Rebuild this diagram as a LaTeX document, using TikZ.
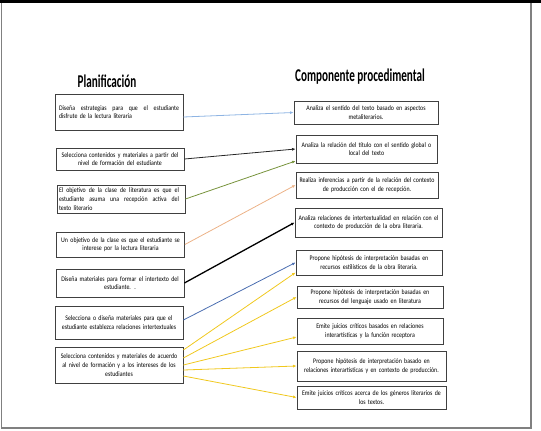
\documentclass[tikz,border=0pt]{standalone}
\usepackage{fontspec}
\setmainfont{Carlito}[FakeStretch=0.84]
\newfontfamily\titulo{Carlito}[FakeStretch=0.62]
\usetikzlibrary{arrows}
\usepgflibrary{arrows.meta}
\definecolor{azulclaro}{RGB}{142,180,227}
\definecolor{gris}{RGB}{38,38,38}
\definecolor{verde}{RGB}{119,147,60}
\definecolor{durazno}{RGB}{236,178,135}
\definecolor{azul}{RGB}{74,109,176}
\definecolor{amarillo}{RGB}{240,200,30}
\newcommand{\linea}[1]{{\spaceskip=0.22em plus 1fil\makebox[120pt][s]{#1}}}
\hyphenpenalty=10000

\begin{document}
\begin{tikzpicture}[x=1pt,y=-1pt,
    caja/.style={draw=black!75,line width=0.8pt,inner sep=2pt,align=center,font=\fontsize{7}{8.6}\selectfont},
    izq/.style={caja,text width=124pt},
    flecha/.style={line width=0.8pt,-{Latex[length=3.5pt,width=3pt]}}]
        %marco;
            \useasboundingbox (0,0) rectangle (541,431);
            \draw [black!50,line width=1.3pt] (1.5,1) -- (1.5,428) -- (531,428) -- (531,1);
            \draw [line width=3pt] (0,1.5) -- (541,1.5);
        %títulos;
            \node (tplan) at (107,81) {\titulo\fontsize{18}{20}\selectfont\bfseries Planificación};
            \node (tcomp) at (360,77) {\titulo\fontsize{18}{20}\selectfont\bfseries Componente procedimental};
        %planificación;
            \node [izq,align=left,minimum height=36pt] (p1) at (119,112) {\hspace*{2pt}\linea{Diseña estrategias para que el estudiante}\\\hspace*{2pt}disfrute de la lectura literaria};
            \node [izq,minimum height=22pt] (p2) at (120,159) {Selecciona contenidos y materiales a partir del\\nivel de formación del estudiante};
            \node [izq,align=left,minimum height=28pt] (p3) at (121,199) {\linea{El objetivo de la clase de literatura es que el}\\\linea{estudiante asuma una recepción activa del}\\texto literario};
            \node [izq,minimum height=25pt] (p4) at (120.5,244.5) {Un objetivo de la clase es que el estudiante se\\interese por la lectura literaria};
            \node [izq,minimum height=28pt] (p5) at (120,283) {Diseña materiales para formar el intertexto del\\estudiante. .};
            \node [izq,minimum height=33pt] (p6) at (119,322.5) {Selecciona o diseña materiales para que el\\estudiante establezca relaciones intertextuales};
            \node [izq,minimum height=36pt] (p7) at (119,365) {Selecciona contenidos y materiales de acuerdo\\al nivel de formación y a los intereses de los\\estudiantes};
        %componente procedimental;
            \node [caja,text width=140pt,minimum height=23pt] (c1) at (366,112.5) {Analiza el sentido del texto basado en aspectos\\metaliterarios.};
            \node [caja,text width=137pt,minimum height=28pt] (c2) at (366.5,149) {Analiza la relación del título con el sentido global o\\local del texto};
            \node [caja,text width=138pt,minimum height=26pt] (c3) at (367,185) {Realiza inferencias a partir de la relación del contexto\\de producción con el de recepción.};
            \node [caja,text width=143pt,minimum height=29pt] (c4) at (368.5,222.5) {Analiza relaciones de intertextualidad en relación con el\\contexto de producción de la obra literaria.};
            \node [caja,text width=142pt,minimum height=25pt] (c5) at (369,262.5) {Propone hipótesis de interpretación basadas en\\recursos estilísticos de la obra literaria.};
            \node [caja,text width=142pt,minimum height=22pt] (c6) at (370,297) {Propone hipótesis de interpretación basadas en\\recursos del lenguaje usado en literatura};
            \node [caja,text width=142pt,minimum height=26pt] (c7) at (370,331) {Emite juicios críticos basados en relaciones\\interartísticas y la función receptora};
            \node [caja,text width=145pt,minimum height=30pt] (c8) at (371.5,366) {Propone hipótesis de interpretación basado en\\relaciones interartísticas y en contexto de producción.};
            \node [caja,text width=145pt,minimum height=23pt] (c9) at (371.5,397.5) {Emite juicios críticos acerca de los géneros literarios de\\los textos.};
        %flechas;
            \draw [flecha,azulclaro] ([yshift=-5pt]p1.east) -- (c1.west);
            \draw [flecha,gris] (p2.east) -- (c2.west);
            \draw [flecha,verde] (p3.east) -- ([yshift=-12pt]c2.west);
            \draw [flecha,durazno] (p4.east) -- (c3.west);
            \draw [flecha,black,line width=1.3pt] (p5.east) -- (c4.west);
            \draw [flecha,azul] ([yshift=2.5pt]p6.east) -- (c5.west);
            %amarillas;
            \draw [flecha,amarillo] ([yshift=15pt]p7.east) -- ([yshift=-10pt]c5.west);
            \draw [flecha,amarillo] ([yshift=7pt]p7.east) -- (c6.west);
            \draw [flecha,amarillo] (p7.east) -- ([yshift=-6pt]c7.west);
            \draw [flecha,amarillo] ([yshift=-5pt]p7.east) -- (c8.west);
            \draw [flecha,amarillo] ([yshift=-11pt]p7.east) -- (c9.west);
    \end{tikzpicture}
\end{document}
